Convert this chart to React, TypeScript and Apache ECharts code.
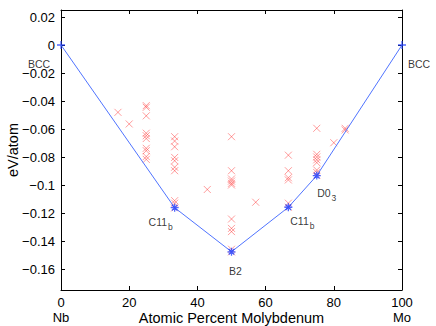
import React, { useEffect, useRef } from "react";
import * as echarts from "echarts";

// Convex hull (ground states)
const hullX = [0, 33.33, 50, 66.67, 75, 100];
const hullY = [0, -0.1162, -0.1477, -0.1159, -0.0933, 0];
const hullLabels = ["BCC", "C11|b", "B2", "C11|b", "D0|3", "BCC"];

// Other structures (red crosses)
const crossX = [
  16.7, 20,
  25, 25, 25, 25, 25, 25, 25, 25, 25, 25,
  33.33, 33.33, 33.33, 33.33, 33.33, 33.33, 33.33, 33.33, 33.33, 33.33,
  42.9,
  50, 50, 50, 50, 50, 50, 50, 50, 50, 50, 50,
  57.1,
  66.67, 66.67, 66.67, 66.67, 66.67, 66.67,
  75, 75, 75, 75, 75, 75, 75, 75,
  80, 83.33, 83.33,
];
const crossY = [
  -0.0481, -0.0564,
  -0.0433, -0.0445, -0.0506, -0.063, -0.0648, -0.0668, -0.0738, -0.0755, -0.0797, -0.0817,
  -0.0655, -0.0686, -0.0727, -0.0803, -0.0827, -0.0873, -0.0898, -0.1112, -0.113, -0.1164,
  -0.1032,
  -0.0655, -0.0898, -0.0957, -0.0972, -0.0988, -0.1, -0.1243, -0.131, -0.1333, -0.1459, -0.1478,
  -0.1123,
  -0.0787, -0.0898, -0.0948, -0.0964, -0.113, -0.1159,
  -0.0595, -0.0781, -0.08, -0.082, -0.084, -0.0893, -0.0911, -0.0931,
  -0.0698, -0.0595, -0.0607,
];

const yTicks = [0.02, 0, -0.02, -0.04, -0.06, -0.08, -0.1, -0.12, -0.14, -0.16];
const xEndLabels: Record<number, string> = { 0: "Nb", 100: "Mo" };

const labelOffsets = [
  [-22, 18.5],
  [-14, 14],
  [4, 19.5],
  [14, 14],
  [10, 17],
  [17, 19],
];

const FONT = "'Liberation Sans', Arial, Helvetica, sans-serif";
const CROSS = "path://M0 0L10 10M10 0L0 10";
const PLUS = "path://M5 0L5 10M0 5L10 5";
const STAR = "path://M5 0L5 10M0 5L10 5M1.5 1.5L8.5 8.5M8.5 1.5L1.5 8.5";

function fmtY(v: number) {
  if (Math.abs(v) < 1e-9) return "0";
  const s = parseFloat(Math.abs(v).toFixed(3)).toString();
  return (v < 0 ? "\u2212" : "") + s;
}

export default function App() {
  const ref = useRef<HTMLDivElement>(null);
  useEffect(() => {
    if (!ref.current) return;
    const chart = echarts.init(ref.current, undefined, { renderer: "svg" });
    const axisLine = { show: true, onZero: false, lineStyle: { color: "#000", width: 1 } };
    const tickStyle = { inside: true, length: 4, lineStyle: { color: "#000" } };
    chart.setOption({
      animation: false,
      backgroundColor: "#fff",
      textStyle: { fontFamily: FONT },
      grid: {
        left: 61,
        right: 34,
        top: 10,
        bottom: 36,
        containLabel: false,
        outerBoundsMode: "none",
      },
      xAxis: [
        {
          type: "value",
          min: 0,
          max: 100,
          interval: 20,
          position: "bottom",
          axisLine,
          axisTick: tickStyle,
          splitLine: { show: false },
          axisLabel: {
            color: "#000",
            fontSize: 13,
            lineHeight: 15,
            margin: 5,
            fontFamily: FONT,
            formatter: (v: number) =>
              xEndLabels[v] !== undefined ? `${v}\n${xEndLabels[v]}` : `${v}`,
          },
          name: "Atomic Percent Molybdenum",
          nameLocation: "middle",
          nameGap: 20,
          nameMoveOverlap: false,
          nameTextStyle: { color: "#000", fontSize: 14.5, fontFamily: FONT },
        },
        {
          type: "value",
          min: 0,
          max: 100,
          interval: 20,
          position: "top",
          axisLine,
          axisTick: tickStyle,
          splitLine: { show: false },
          axisLabel: { show: false },
        },
      ],
      yAxis: [
        {
          type: "value",
          min: -0.175,
          max: 0.025,
          position: "left",
          axisLine,
          axisTick: { ...tickStyle, customValues: yTicks },
          splitLine: { show: false },
          axisLabel: {
            customValues: yTicks,
            color: "#000",
            fontSize: 13,
            margin: 6,
            fontFamily: FONT,
            formatter: (v: number) => fmtY(v),
          },
          name: "eV/atom",
          nameLocation: "middle",
          nameGap: 41,
          nameMoveOverlap: false,
          nameTextStyle: { color: "#000", fontSize: 14.5, fontFamily: FONT },
        },
        {
          type: "value",
          min: -0.175,
          max: 0.025,
          position: "right",
          axisLine,
          axisTick: { ...tickStyle, customValues: yTicks },
          splitLine: { show: false },
          axisLabel: { show: false, customValues: yTicks },
        },
      ],
      series: [
        {
          type: "scatter",
          xAxisIndex: 0,
          yAxisIndex: 0,
          symbol: CROSS,
          symbolSize: 7,
          itemStyle: {
            color: "rgba(255,30,30,0.55)",
            borderColor: "rgba(255,30,30,0.55)",
            borderWidth: 1,
          },
          data: crossX.map((x, i) => [x, crossY[i]]),
          z: 2,
        },
        {
          type: "line",
          xAxisIndex: 0,
          yAxisIndex: 0,
          showSymbol: false,
          lineStyle: { color: "#5074ff", width: 1 },
          data: hullX.map((x, i) => [x, hullY[i]]),
          z: 3,
        },
        {
          type: "scatter",
          xAxisIndex: 0,
          yAxisIndex: 0,
          symbolSize: 8,
          z: 4,
          data: hullX.map((x, i) => {
            const parts = hullLabels[i].split("|");
            const end = i === 0 || i === hullX.length - 1;
            return {
              value: [x, hullY[i]],
              symbol: end ? PLUS : STAR,
              itemStyle: {
                color: "#2442ff",
                borderColor: "#2442ff",
                borderWidth: 1.3,
              },
              label: {
                show: true,
                position: "inside",
                offset: labelOffsets[i],
                formatter:
                  parts.length > 1
                    ? `{m|${parts[0]}}{s|${parts[1]}}`
                    : `{m|${parts[0]}}`,
                rich: {
                  m: { fontSize: 10.5, color: "#000", fontFamily: FONT },
                  s: {
                    fontSize: 8.5,
                    color: "#000",
                    fontFamily: FONT,
                    padding: [10, 0, 0, 1],
                  },
                },
              },
            };
          }),
        },
      ],
    });
    return () => chart.dispose();
  }, []);
  return (
    <div
      ref={ref}
      style={{ position: "fixed", left: 0, top: 0, width: 436, height: 326 }}
    />
  );
}
